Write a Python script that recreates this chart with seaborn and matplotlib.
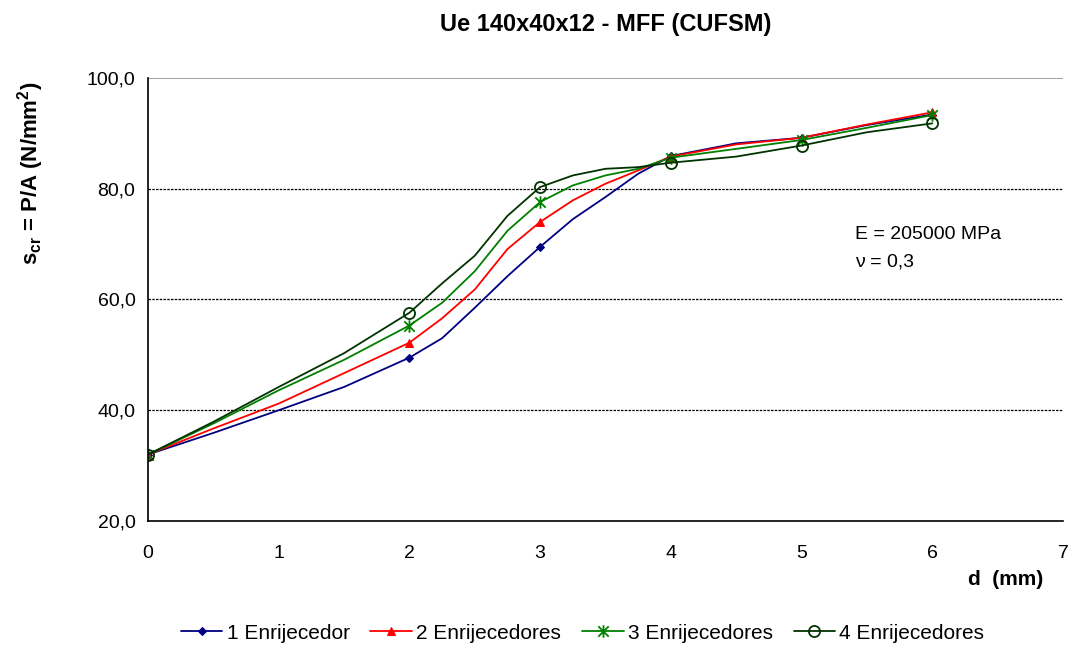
import matplotlib
matplotlib.use('Agg')
import matplotlib.pyplot as plt
from matplotlib.path import Path
import seaborn as sns

# Données (d en mm, tension en N/mm2)
d_mm = [0, 0.5, 1, 1.5, 2, 2.25, 2.5, 2.75, 3, 3.25, 3.5, 3.75, 4, 4.5, 5, 5.5, 6]
enr_1 = [32.0, 35.9, 40.0, 44.2, 49.5, 53.0, 58.5, 64.2, 69.5, 74.5, 78.5, 82.7, 85.9, 88.2, 89.2, 91.5, 93.4]
enr_2 = [32.0, 36.7, 41.2, 46.7, 52.2, 56.6, 61.8, 69.1, 74.0, 77.9, 80.9, 83.3, 85.8, 88.0, 89.2, 91.6, 93.8]
enr_3 = [32.0, 37.6, 43.6, 49.1, 55.3, 59.4, 65.1, 72.4, 77.6, 80.6, 82.4, 83.6, 85.6, 87.2, 88.8, 91.0, 93.3]
enr_4 = [32.0, 37.9, 44.2, 50.3, 57.6, 62.9, 67.9, 75.1, 80.3, 82.4, 83.6, 83.9, 84.7, 85.8, 87.8, 90.2, 91.8]

series_labels = ['1 Enrijecedor', '2 Enrijecedores', '3 Enrijecedores', '4 Enrijecedores']
y_ticks = [20, 40, 60, 80, 100]
x_ticks = [0, 1, 2, 3, 4, 5, 6, 7]

sns.set_style('white')
plt.rcParams['font.family'] = ['Liberation Sans', 'DejaVu Sans']
plt.rcParams['text.color'] = 'black'
plt.rcParams['axes.labelcolor'] = 'black'

fig = plt.figure(figsize=(10.69, 6.46), dpi=100)
ax = fig.add_axes([0.1384, 0.1935, 0.8560, 0.6858])

# marqueur "étoile" Excel : X + barre verticale
star = Path([(-1, -1), (1, 1), (-1, 1), (1, -1), (0, -1.2), (0, 1.2)],
            [Path.MOVETO, Path.LINETO, Path.MOVETO, Path.LINETO, Path.MOVETO, Path.LINETO])

# styles des séries (façon Excel)
styles = [
    dict(color='#000080', marker='D', markersize=4),
    dict(color='#FF0000', marker='^', markersize=6),
    dict(color='#008000', marker=star, markersize=9, markeredgewidth=1.3),
    dict(color='#003300', marker='o', markersize=8, markerfacecolor='none', markeredgewidth=1.3),
]
mark_idx = [0, 4, 8, 12, 14, 16]

# quadrillage horizontal pointillé
for yv in y_ticks[1:-1]:
    ax.axhline(yv, color='black', linestyle=(0, (2, 1)), linewidth=0.9, zorder=0)
ax.axhline(100, color='#909090', linewidth=1.2, zorder=0)

for values, label, st in zip([enr_1, enr_2, enr_3, enr_4], series_labels, styles):
    sns.lineplot(x=d_mm, y=values, ax=ax, label=label, linewidth=1.3,
                 markevery=mark_idx, markeredgecolor=st['color'], **st)

ax.set_xlim(0, 7)
ax.set_ylim(20, 100)
ax.set_xticks(x_ticks)
ax.set_yticks(y_ticks)
ax.set_yticklabels([f'{v:.1f}'.replace('.', ',') for v in y_ticks])
ax.tick_params(axis='both', direction='out', length=4, width=1, labelsize=14, colors='black')
ax.tick_params(axis='x', pad=13)
ax.tick_params(axis='y', pad=5)

ax.spines['top'].set_visible(False)
ax.spines['right'].set_visible(False)
for s in ['left', 'bottom']:
    ax.spines[s].set_color('black')
    ax.spines[s].set_linewidth(1.2)

ax.set_title('Ue 140x40x12 - MFF (CUFSM)', fontsize=17, fontweight='bold', pad=34)
ax.set_ylabel(r'$\mathregular{s_{cr}}$ = P/A (N/mm$\mathregular{^2}$)', fontsize=16, fontweight='bold')
ax.yaxis.set_label_coords(-0.111, 0.786)
ax.set_xlabel('d  (mm)', fontsize=15, fontweight='bold')
ax.xaxis.set_label_coords(0.937, -0.111)

ax.text(5.41, 71.8, 'E = 205000 MPa', fontsize=14, va='center')
ax.text(5.41, 66.8, 'ν = 0,3', fontsize=14, va='center')

handles, labels = ax.get_legend_handles_labels()
ax.get_legend().remove()
fig.legend(handles, labels, loc='center', bbox_to_anchor=(0.545, 0.02), ncol=4,
           frameon=False, fontsize=15, handlelength=2, handletextpad=0.2, columnspacing=1.0)

fig.savefig('out.png', dpi=100)
